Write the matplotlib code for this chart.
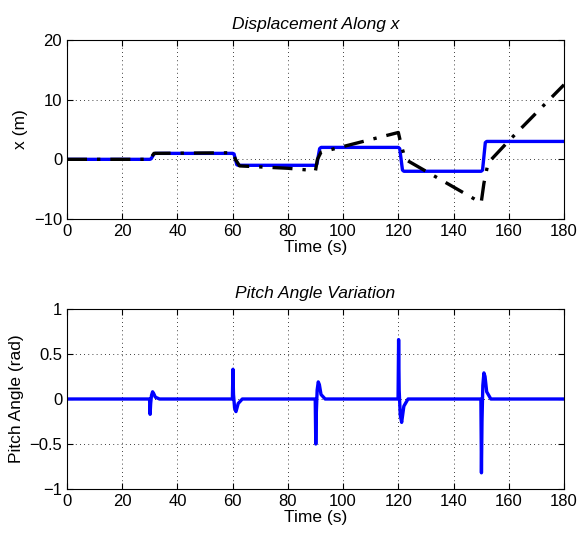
import matplotlib.pyplot as plt
import numpy as np

plt.rcParams['font.family'] = ['Liberation Sans', 'DejaVu Sans']

# displacement: actual (blue) and reference/estimate (black dash-dot)
t_disp = [0, 30, 30.5, 31, 31.5, 32, 60, 60.5, 61, 61.5, 62, 90, 90.5, 91, 91.5, 92,
          120, 120.5, 121, 121.5, 122, 150, 150.5, 151, 151.5, 152, 180]
x_disp = [0, 0, 0.1, 0.5, 0.9, 1.0, 1.0, 0.9, 0.0, -0.9, -1.0, -1.0, -0.8, 0.5, 1.8, 2.0,
          2.0, 1.8, 0.0, -1.8, -2.0, -2.0, -1.8, 0.5, 2.8, 3.0, 3.0]

t_ref = [0, 30, 31.5, 60, 61, 62.5, 80, 90, 90.7, 92, 120, 121, 122.5, 150, 151, 152.5, 160, 180]
x_ref = [0, 0, 1.0, 1.1, 0.0, -1.1, -1.5, -1.9, 0.0, 1.2, 4.5, 2.5, 0.0, -7.3, -4.0, -0.6, 3.1, 12.5]

# pitch angle
t_pitch = [0, 29.9, 30.1, 30.3, 30.6, 31.0, 31.4, 32.0, 33.5,
           59.9, 60.1, 60.3, 60.7, 61.2, 62.0, 63.5,
           89.9, 90.1, 90.3, 90.6, 91.0, 91.4, 92.0, 93.5,
           119.9, 120.1, 120.3, 120.7, 121.2, 122.0, 123.5,
           149.9, 150.1, 150.3, 150.6, 151.0, 151.4, 152.0, 153.5, 180]
pitch = [0, 0, -0.17, -0.05, 0.04, 0.08, 0.06, 0.02, 0,
         0, 0.33, 0.05, -0.10, -0.14, -0.05, 0,
         0, -0.50, -0.15, 0.10, 0.19, 0.16, 0.05, 0,
         0, 0.66, 0.10, -0.18, -0.26, -0.08, 0,
         0, -0.82, -0.25, 0.15, 0.29, 0.25, 0.08, 0, 0]

fig = plt.figure(figsize=(5.78, 5.38), dpi=100)
ax1 = fig.add_axes([67/578, 1 - 219/538, 497/578, 179/538])
ax2 = fig.add_axes([67/578, 1 - 489/538, 497/578, 180/538])

ax1.plot(t_disp, x_disp, color='#0000ff', lw=2.4, zorder=2)
ax1.plot(t_ref, x_ref, color='black', lw=2.4, ls=(0, (6, 3, 1, 3)), zorder=3)
ax1.set_xlim(0, 180)
ax1.set_ylim(-10, 20)
ax1.set_yticks([-10, 0, 10, 20])
ax1.set_xticks(range(0, 181, 20))
ax1.set_title('Displacement Along x', style='italic', fontsize=12.5, pad=8)
ax1.set_xlabel('Time (s)', fontsize=12.5, labelpad=1)
ax1.set_ylabel('x (m)', fontsize=12.5)

ax2.plot(t_pitch, pitch, color='#0000ff', lw=2.4)
ax2.set_xlim(0, 180)
ax2.set_ylim(-1, 1)
ax2.set_yticks([-1, -0.5, 0, 0.5, 1])
ax2.set_yticklabels(['\u22121', '\u22120.5', '0', '0.5', '1'])
ax2.set_xticks(range(0, 181, 20))
ax2.set_title('Pitch Angle Variation', style='italic', fontsize=12.5, pad=8)
ax2.set_xlabel('Time (s)', fontsize=12.5, labelpad=1)
ax2.set_ylabel('Pitch Angle (rad)', fontsize=12.5)

for ax in (ax1, ax2):
    ax.grid(True, color='black', ls=(0, (1, 4)), lw=0.6)
    ax.tick_params(direction='in', labelsize=12, top=True, right=True, length=4)
    for s in ax.spines.values():
        s.set_linewidth(0.8)

fig.savefig('out.png', dpi=100)
